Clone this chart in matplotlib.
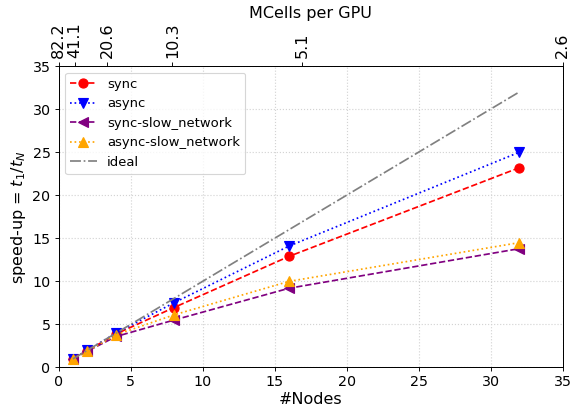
import numpy as np
import matplotlib
matplotlib.use("Agg")
import matplotlib.pyplot as plt

nodes = [1, 2, 4, 8, 16, 32]
mcells = ["82.2", "41.1", "20.6", "10.3", "5.1", "2.6"]

sync = [1.0, 1.95, 3.9, 6.95, 12.9, 23.2]
async_ = [1.0, 2.0, 4.0, 7.5, 14.1, 25.0]
sync_slow = [1.0, 1.9, 3.6, 5.5, 9.2, 13.8]
async_slow = [1.0, 1.9, 3.8, 6.1, 10.0, 14.5]
ideal = nodes

plt.rcParams['font.size'] = 12.5
plt.rcParams['axes.labelsize'] = 14

dpi = 82
fig = plt.figure(figsize=(580 / dpi, 409 / dpi), dpi=dpi)
ax = fig.add_axes([0.101, 0.1015, 0.869, 0.737])

ax.plot(nodes, sync, 'o--', color='red', markersize=8, label='sync')
ax.plot(nodes, async_, 'v:', color='blue', markersize=8, label='async')
ax.plot(nodes, sync_slow, '<--', color='purple', markersize=8, label='sync-slow_network')
ax.plot(nodes, async_slow, '^:', color='orange', markersize=8, label='async-slow_network')
ax.plot(nodes, ideal, '-.', color='gray', label='ideal')

ax.set_xlim(0, 35)
ax.set_ylim(0, 35)
ax.set_xlabel('#Nodes', labelpad=2)
ax.set_ylabel(r'speed-up = $t_1/t_N$')
ax.grid(True, linestyle=':', color='lightgray', linewidth=1)
ax.legend(loc='upper left', fontsize=11.5)

# top axis: problem size per GPU
ax2 = ax.twiny()
ax2.set_xlim(1, 32)
ax2.set_xticks(nodes)
ax2.set_xticklabels(mcells, rotation=90, fontsize=14)
ax2.set_xlabel('MCells per GPU')

fig.savefig('out.png', dpi=dpi)
